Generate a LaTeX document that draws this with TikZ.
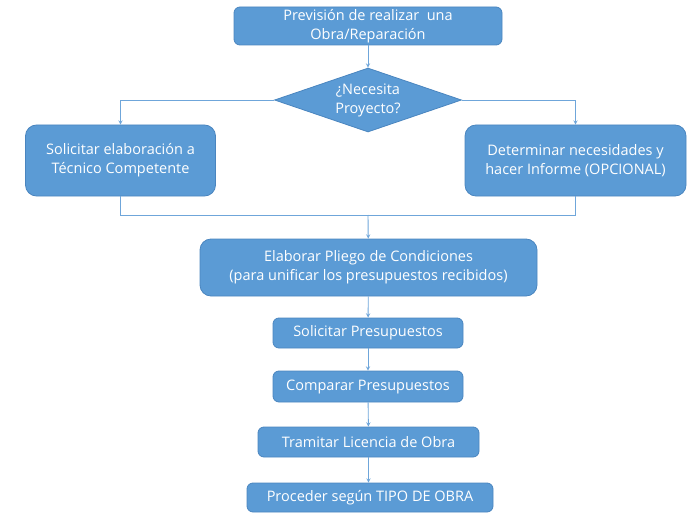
\documentclass[tikz,border=0pt]{standalone}
\usepackage{fontspec}
\setmainfont{Open Sans}
\usetikzlibrary{shapes, arrows}
\definecolor{boxblue}{HTML}{5B9BD5}
\definecolor{boxline}{HTML}{4A85BF}
\definecolor{flowline}{HTML}{6FA6DA}
\tikzset{
	every node/.style={line width=0.8pt,fill=boxblue,draw=boxline,text=white,font=\fontsize{14.5}{19}\selectfont,align=center,inner sep=0pt},
	blue-box/.style={shape=rectangle,rounded corners=6pt},
	big-box/.style={shape=rectangle,rounded corners=11pt},
	decision/.style={shape=diamond,aspect=2.9},
}
\tikzstyle{arrow} = [line width=0.9pt,draw=flowline,->,>=stealth]
\tikzstyle{line} = [line width=0.9pt,draw=flowline]

\begin{document}
\begin{tikzpicture}[x=1pt,y=-1pt]
						\useasboundingbox (0,0) rectangle (687,513);
						\node[blue-box,minimum width=268pt,minimum height=38pt] (prev) at (368,26) {Previsión de realizar\ \ una\\Obra/Reparación};
						\node[decision,minimum width=187pt,minimum height=64pt] (dec) at (368,100) {¿Necesita\\Proyecto?};
						\node[big-box,minimum width=190pt,minimum height=71pt] (tec) at (120.5,160.5) {Solicitar elaboración a\\Técnico Competente};
						\node[big-box,minimum width=221pt,minimum height=71pt] (inf) at (575.5,160.5) {Determinar necesidades y\\hacer Informe (OPCIONAL)};
						\node[big-box,minimum width=337pt,minimum height=57pt] (pliego) at (368.5,267.5) {Elaborar Pliego de Condiciones\\(para unificar los presupuestos recibidos)};
						\node[blue-box,minimum width=190pt,minimum height=30pt] (sol) at (368,333) {Solicitar Presupuestos};
						\node[blue-box,minimum width=190pt,minimum height=31pt] (comp) at (368,386.5) {Comparar Presupuestos};
						\node[blue-box,minimum width=221pt,minimum height=30pt] (lic) at (368.5,442) {Tramitar Licencia de Obra};
						\node[blue-box,minimum width=246pt,minimum height=29pt] (proc) at (370,497.5) {Proceder según TIPO DE OBRA};
						\coordinate (join) at (368,215);
						
						\draw [arrow] (prev) -- (dec);
						\draw [arrow] (dec.west) -| (tec);
						\draw [arrow] (dec.east) -| (inf);
						\draw [line] (tec) |- (join);
						\draw [line] (inf) |- (join);
						\draw [arrow] (join) -- (pliego);
						\draw [arrow] (pliego) -- (sol);
						\draw [arrow] (sol) -- (comp);
						\draw [arrow] (comp) -- (lic);
						\draw [arrow] (lic) -- (proc.north -| lic);
					\end{tikzpicture}
\end{document}
